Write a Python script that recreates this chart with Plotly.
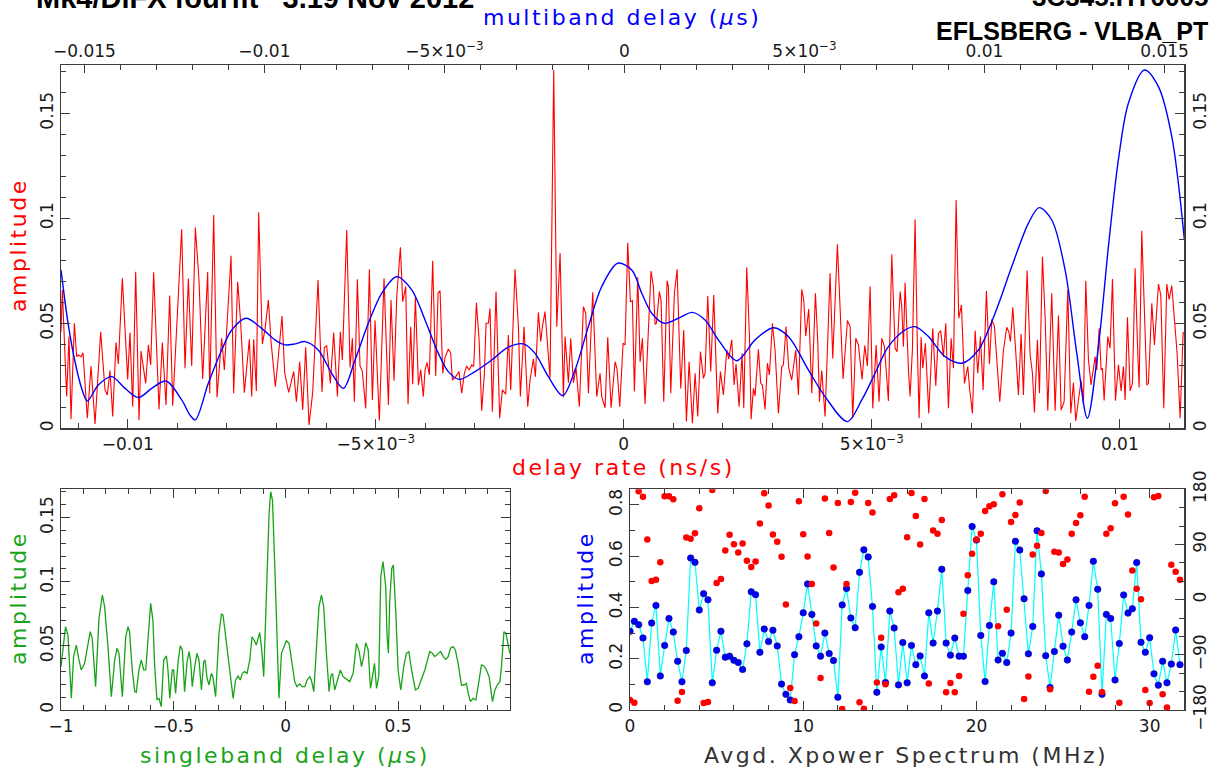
import plotly.graph_objects as go

# ---------------- data ----------------
# main panel, red: amplitude vs delay rate (stored in ps/s)
rate_ps = [
    -11.345, -11.318, -11.231, -11.184, -11.143, -11.076, -11.029, -10.995, -10.942, -10.901,
    -10.814, -10.740, -10.659, -10.545, -10.458, -10.411, -10.357, -10.303, -10.236, -10.189,
    -10.108, -10.001, -9.954, -9.900, -9.839, -9.772, -9.732, -9.638, -9.584, -9.537,
    -9.477, -9.369, -9.302, -9.228, -9.154, -9.093, -8.912, -8.845, -8.778, -8.710,
    -8.636, -8.563, -8.489, -8.448, -8.388, -8.347, -8.267, -8.200, -8.106, -8.052,
    -7.917, -7.864, -7.783, -7.722, -7.649, -7.548, -7.501, -7.460, -7.407, -7.360,
    -7.286, -7.232, -7.165, -7.111, -7.024, -6.977, -6.889, -6.835, -6.755, -6.654,
    -6.600, -6.533, -6.472, -6.412, -6.345, -6.271, -6.163, -6.083, -6.036, -5.989,
    -5.915, -5.848, -5.773, -5.713, -5.673,
    -5.585, -5.518, -5.471, -5.431, -5.370, -5.317, -5.270, -5.202, -5.128, -5.068,
    -5.014, -4.927, -4.833, -4.745, -4.692, -4.631, -4.577, -4.503, -4.456, -4.396,
    -4.349, -4.295, -4.255, -4.201, -4.140, -4.093, -4.040, -4.006, -3.966, -3.919,
    -3.852, -3.791, -3.744, -3.704, -3.650, -3.603, -3.536, -3.489, -3.455, -3.388,
    -3.321, -3.267, -3.213, -3.166, -3.119, -3.065, -3.025, -2.971, -2.917, -2.864,
    -2.810, -2.776, -2.729, -2.696, -2.649, -2.575, -2.501, -2.447, -2.380, -2.326,
    -2.279, -2.192, -2.124, -2.084, -2.010, -1.936, -1.889, -1.822, -1.782, -1.721,
    -1.674, -1.640, -1.587, -1.533, -1.486, -1.412, -1.351, -1.284, -1.217, -1.183,
    -1.116, -1.069, -1.015, -0.962, -0.895, -0.814, -0.767, -0.713, -0.626, -0.545,
    -0.478, -0.444, -0.377, -0.323, -0.256, -0.175, -0.135, -0.081, -0.014, 0.026,
    0.080, 0.134, 0.174, 0.214, 0.282, 0.329, 0.376, 0.429, 0.550, 0.597,
    0.631, 0.658, 0.718, 0.752, 0.806, 0.873, 0.900, 0.947, 1.021, 1.075,
    1.149, 1.209, 1.263, 1.317, 1.384, 1.438, 1.491, 1.545, 1.606, 1.639,
    1.693, 1.753, 1.814, 1.894, 1.948, 2.009, 2.076, 2.116, 2.177, 2.224,
    2.264, 2.325, 2.385, 2.419, 2.479, 2.533, 2.567, 2.614, 2.647, 2.714,
    2.761, 2.795, 2.849, 2.896, 2.936, 2.997, 3.050, 3.118, 3.185, 3.218,
    3.272, 3.326, 3.386, 3.467, 3.521, 3.588, 3.628, 3.669, 3.729, 3.790,
    3.864, 3.911, 3.944, 3.991, 4.058, 4.159, 4.213, 4.307, 4.368, 4.421,
    4.509, 4.563, 4.616, 4.677, 4.730, 4.804, 4.858, 4.912, 4.966, 5.020,
    5.087, 5.147, 5.201, 5.255, 5.335, 5.403, 5.470, 5.510, 5.571, 5.604,
    5.638, 5.671,
    5.739, 5.772, 5.819, 5.873, 5.920, 5.954, 5.994, 6.028, 6.081, 6.148,
    6.229, 6.290, 6.343, 6.390, 6.444, 6.491, 6.545, 6.599, 6.646, 6.700,
    6.753, 6.807, 6.868, 6.935, 6.968, 7.029, 7.083, 7.136, 7.190, 7.244,
    7.311, 7.372, 7.419, 7.473, 7.580, 7.654, 7.721, 7.762, 7.795, 7.842,
    7.896, 7.956, 8.010, 8.057, 8.131, 8.192, 8.239, 8.279, 8.339, 8.380,
    8.440, 8.494, 8.548, 8.628, 8.696, 8.763, 8.817, 8.877, 8.951, 9.012,
    9.065, 9.112, 9.166, 9.220, 9.267, 9.314, 9.368, 9.421, 9.502, 9.536,
    9.583, 9.623, 9.650, 9.684, 9.757, 9.804, 9.852, 9.912, 9.973, 10.026,
    10.073, 10.107, 10.154, 10.208, 10.255, 10.308, 10.355, 10.389, 10.443, 10.497,
    10.544, 10.577, 10.645, 10.698, 10.779, 10.826, 10.886, 10.947, 10.994, 11.048,
    11.115, 11.155, 11.216, 11.276, 11.303,
]
rate_amp = [
    0.0460, 0.0659, 0.0151, 0.0437, 0.0043, 0.0500, 0.0341, 0.0349, 0.0341, 0.0360,
    0.0048, 0.0297, 0.0021, 0.0460, 0.0183, 0.0159, 0.0275, 0.0056, 0.0408, 0.0306,
    0.0714, 0.0233, 0.0456, 0.0103, 0.0746, 0.0040, 0.0368, 0.0214, 0.0397, 0.0302,
    0.0743, 0.0090, 0.0408, 0.0111, 0.0632, 0.0108, 0.0948, 0.0286, 0.0713, 0.0297,
    0.0956, 0.0706, 0.0235, 0.0468, 0.0744, 0.0167, 0.1016, 0.0148, 0.0429, 0.0278,
    0.0822, 0.0167, 0.0698, 0.0500, 0.0170, 0.0424, 0.0151, 0.0424, 0.0178, 0.1029,
    0.0402, 0.0471, 0.0611, 0.0413, 0.0198, 0.0306, 0.0535, 0.0262, 0.0171, 0.0270,
    0.0127, 0.0317, 0.0087, 0.0386, 0.0016, 0.0171, 0.0706, 0.0173, 0.0386, 0.0392,
    0.0214, 0.0456, 0.0151, 0.0460, 0.0325,
    0.0944, 0.0290, 0.0429, 0.0127, 0.0710, 0.0297, 0.0270, 0.0095, 0.0757, 0.0135,
    0.0513, 0.0037, 0.0714, 0.0111, 0.0611, 0.0227, 0.0627, 0.0862, 0.0603, 0.0675,
    0.0114, 0.0484, 0.0210, 0.0624, 0.0206, 0.0278, 0.0151, 0.0278, 0.0313, 0.0254,
    0.0798, 0.0249, 0.0643, 0.0656, 0.0262, 0.0337, 0.0378, 0.0357, 0.0230, 0.0246,
    0.0270, 0.0167, 0.0262, 0.0297, 0.0278, 0.0302, 0.0294, 0.0598, 0.0424, 0.0084,
    0.0259, 0.0500, 0.0500, 0.0571, 0.0079, 0.0651, 0.0048, 0.0183, 0.0162, 0.0444,
    0.0183, 0.0757, 0.0484, 0.0151, 0.0484, 0.0103, 0.0230, 0.0330, 0.0246, 0.0552,
    0.0413, 0.0484, 0.0556, 0.0389, 0.0238, 0.1706, 0.0484, 0.0833, 0.0148, 0.0437,
    0.0217, 0.0429, 0.0217, 0.0286, 0.0103, 0.0579, 0.0548, 0.0167, 0.0648, 0.0151,
    0.0262, 0.0151, 0.0098, 0.0433, 0.0098, 0.0317, 0.0281, 0.0103, 0.0405, 0.0397,
    0.0884, 0.0603, 0.0608, 0.0175, 0.0719, 0.0317, 0.0429, 0.0116, 0.0749, 0.0675,
    0.0495, 0.0500, 0.0651, 0.0608, 0.0127, 0.0703, 0.0675, 0.0167, 0.0643, 0.0757,
    0.0190, 0.0468, 0.0032, 0.0317, 0.0024, 0.0262, 0.0056, 0.0365, 0.0238, 0.0262,
    0.0630, 0.0270, 0.0635, 0.0071, 0.0270, 0.0159, 0.0373, 0.0329, 0.0421, 0.0206,
    0.0306, 0.0103, 0.0357, 0.0095, 0.0767, 0.0444, 0.0043, 0.0190, 0.0154, 0.0376,
    0.0214, 0.0206, 0.0090, 0.0310, 0.0254, 0.0500, 0.0373, 0.0071, 0.0294, 0.0302,
    0.0484, 0.0286, 0.0230, 0.0373, 0.0159, 0.0662, 0.0611, 0.0440, 0.0568, 0.0167,
    0.0643, 0.0413, 0.0127, 0.0275, 0.0056, 0.0738, 0.0333, 0.0876, 0.0529, 0.0235,
    0.0513, 0.0484, 0.0048, 0.0429, 0.0397, 0.0233, 0.0394, 0.0297, 0.0675, 0.0095,
    0.0397, 0.0127, 0.0429, 0.0389, 0.0130, 0.0829, 0.0381, 0.0365, 0.0651, 0.0579,
    0.0389, 0.0694,
    0.0278, 0.0151, 0.0376, 0.0995, 0.0376, 0.0048, 0.0433, 0.0286, 0.0405, 0.0071,
    0.0476, 0.0202, 0.0452, 0.0465, 0.0341, 0.0500, 0.0095, 0.0429, 0.0286, 0.1087,
    0.0524, 0.0587, 0.0214, 0.0294, 0.0198, 0.0071, 0.0465, 0.0262, 0.0437, 0.0183,
    0.0654, 0.0306, 0.0519, 0.0484, 0.0127, 0.0373, 0.0481, 0.0460, 0.0413, 0.0576,
    0.0386, 0.0159, 0.0449, 0.0159, 0.0751, 0.0349, 0.0262, 0.0075, 0.0421, 0.0167,
    0.0817, 0.0532, 0.0084, 0.0643, 0.0084, 0.0537, 0.0087, 0.0127, 0.0659, 0.0071,
    0.0217, 0.0035, 0.0135, 0.0227, 0.0119, 0.0703, 0.0325, 0.0206, 0.0341, 0.0278,
    0.0476, 0.0278, 0.0286, 0.0132, 0.0437, 0.0381, 0.0711, 0.0132, 0.0302, 0.0178,
    0.0294, 0.0135, 0.0529, 0.0178, 0.0214, 0.0762, 0.0405, 0.0194, 0.0941, 0.0484,
    0.0206, 0.0214, 0.0595, 0.0397, 0.0687, 0.0635, 0.0095, 0.0687, 0.0614, 0.0679,
    0.0484, 0.0357, 0.0048, 0.0456, 0.0452,
]

# main panel, blue: amplitude vs multiband delay (stored in ns)
mbd_ns = [
    -15.650, -15.447, -15.261, -15.075, -14.919, -14.614, -14.242, -13.872, -13.503, -13.131,
    -12.733, -12.297, -12.067, -11.919, -11.558, -11.186, -10.908, -10.511, -10.075, -9.706,
    -9.428, -9.150, -8.872, -8.503, -8.131, -7.808, -7.483, -7.114, -6.742, -6.325,
    -5.908, -5.539, -5.169, -4.892, -4.594, -4.150, -3.686, -3.225, -2.808, -2.483,
    -2.114, -1.714, -1.372, -1.003, -0.631, -0.186, 0.203, 0.481, 0.758, 1.108,
    1.497, 1.886, 2.239, 2.608, 3.119, 3.628, 4.136, 4.553, 5.108, 5.572,
    6.192, 6.592, 6.961, 7.331, 7.794, 8.072, 8.442, 8.906, 9.369, 9.831,
    10.294, 10.758, 11.219, 11.517, 11.869, 12.239, 12.564, 12.858, 13.164, 13.442,
    13.719, 13.997, 14.442, 14.831, 15.203, 15.553,
]
mbd_amp = [
    0.0754, 0.0492, 0.0317, 0.0190, 0.0130, 0.0206, 0.0246, 0.0190, 0.0146, 0.0190,
    0.0225, 0.0135, 0.0063, 0.0040, 0.0214, 0.0373, 0.0468, 0.0524, 0.0476, 0.0421,
    0.0397, 0.0402, 0.0413, 0.0373, 0.0262, 0.0190, 0.0325, 0.0500, 0.0643, 0.0722,
    0.0659, 0.0516, 0.0357, 0.0270, 0.0233, 0.0270, 0.0325, 0.0386, 0.0402, 0.0357,
    0.0246, 0.0156, 0.0278, 0.0484, 0.0675, 0.0786, 0.0754, 0.0643, 0.0548, 0.0500,
    0.0524, 0.0552, 0.0516, 0.0421, 0.0322, 0.0421, 0.0479, 0.0437, 0.0278, 0.0151,
    0.0032, 0.0135, 0.0262, 0.0389, 0.0468, 0.0484, 0.0437, 0.0341, 0.0310, 0.0373,
    0.0548, 0.0770, 0.0976, 0.1051, 0.0992, 0.0754, 0.0357, 0.0048, 0.0389, 0.0865,
    0.1278, 0.1548, 0.1706, 0.1627, 0.1389, 0.0897,
]

# lower left, green: amplitude vs singleband delay (us)
sbd_us = [
    -1.000, -0.991, -0.980, -0.969, -0.954, -0.944, -0.932, -0.920, -0.910, -0.895,
    -0.880, -0.870, -0.861, -0.846, -0.831, -0.816, -0.806, -0.791, -0.776, -0.761,
    -0.751, -0.742, -0.727, -0.712, -0.702, -0.695, -0.683, -0.672, -0.665, -0.653,
    -0.643, -0.632, -0.623, -0.613, -0.601, -0.591, -0.583, -0.573, -0.564, -0.554,
    -0.543, -0.531, -0.524, -0.516, -0.505, -0.499, -0.490, -0.479, -0.469, -0.460,
    -0.450, -0.439, -0.430, -0.423, -0.416, -0.405, -0.395, -0.386, -0.375, -0.365,
    -0.359, -0.350, -0.341, -0.331, -0.324, -0.312, -0.297, -0.286, -0.279, -0.267,
    -0.252, -0.234, -0.223, -0.212, -0.202, -0.193, -0.183, -0.172, -0.160, -0.150,
    -0.141, -0.131, -0.116, -0.108, -0.098, -0.086, -0.074, -0.067, -0.059, -0.049,
    -0.039, -0.030, -0.019, -0.009, 0.003, 0.015, 0.027, 0.040, 0.050, 0.062,
    0.074, 0.085, 0.095, 0.107, 0.114, 0.125, 0.137, 0.148, 0.159, 0.169,
    0.181, 0.193, 0.200, 0.208, 0.218, 0.233, 0.243, 0.255, 0.270, 0.285,
    0.300, 0.315, 0.327, 0.337, 0.347, 0.356, 0.367, 0.377, 0.386, 0.395,
    0.404, 0.414, 0.423, 0.433, 0.445, 0.451, 0.457, 0.463, 0.472, 0.479,
    0.490, 0.500, 0.512, 0.525, 0.537, 0.548, 0.560, 0.577, 0.589, 0.604,
    0.619, 0.641, 0.653, 0.663, 0.678, 0.689, 0.701, 0.712, 0.723, 0.733,
    0.745, 0.755, 0.767, 0.782, 0.794, 0.804, 0.812, 0.822, 0.834, 0.846,
    0.856, 0.871, 0.882, 0.893, 0.905, 0.920, 0.931, 0.941, 0.953, 0.960,
    0.971, 0.980, 0.990, 0.997,
]
sbd_amp = [
    0.0338, 0.0494, 0.0649, 0.0584, 0.0091, 0.0416, 0.0506, 0.0390, 0.0312, 0.0364,
    0.0519, 0.0610, 0.0558, 0.0182, 0.0714, 0.0896, 0.0805, 0.0494, 0.0104, 0.0390,
    0.0481, 0.0442, 0.0104, 0.0571, 0.0649, 0.0610, 0.0312, 0.0143, 0.0138, 0.0312,
    0.0390, 0.0312, 0.0312, 0.0571, 0.0831, 0.0701, 0.0338, 0.0078, 0.0091, 0.0026,
    0.0390, 0.0421, 0.0312, 0.0091, 0.0312, 0.0312, 0.0130, 0.0377, 0.0501, 0.0468,
    0.0143, 0.0377, 0.0455, 0.0377, 0.0182, 0.0338, 0.0442, 0.0390, 0.0156, 0.0377,
    0.0390, 0.0247, 0.0195, 0.0286, 0.0260, 0.0104, 0.0597, 0.0748, 0.0740, 0.0571,
    0.0338, 0.0091, 0.0234, 0.0265, 0.0234, 0.0286, 0.0299, 0.0286, 0.0390, 0.0571,
    0.0545, 0.0506, 0.0603, 0.0494, 0.0260, 0.0883, 0.1532, 0.1701, 0.1636, 0.1143,
    0.0494, 0.0091, 0.0442, 0.0494, 0.0540, 0.0519, 0.0390, 0.0221, 0.0182, 0.0203,
    0.0182, 0.0182, 0.0234, 0.0260, 0.0234, 0.0143, 0.0494, 0.0805, 0.0896, 0.0805,
    0.0442, 0.0143, 0.0260, 0.0286, 0.0156, 0.0260, 0.0312, 0.0260, 0.0239, 0.0221,
    0.0286, 0.0519, 0.0455, 0.0338, 0.0416, 0.0525, 0.0468, 0.0169, 0.0260, 0.0364,
    0.0169, 0.0260, 0.1039, 0.1156, 0.0961, 0.0571, 0.0442, 0.0857, 0.1104, 0.1130,
    0.0753, 0.0312, 0.0156, 0.0338, 0.0442, 0.0455, 0.0312, 0.0156, 0.0169, 0.0234,
    0.0312, 0.0455, 0.0442, 0.0416, 0.0442, 0.0455, 0.0416, 0.0395, 0.0416, 0.0481,
    0.0494, 0.0468, 0.0364, 0.0195, 0.0195, 0.0208, 0.0130, 0.0065, 0.0091, 0.0078,
    0.0182, 0.0351, 0.0343, 0.0312, 0.0260, 0.0065, 0.0156, 0.0195, 0.0221, 0.0338,
    0.0610, 0.0597, 0.0506, 0.0442,
]

# lower right: averaged cross-power spectrum
freq_mhz = [
    0.00, 0.25, 0.50, 0.75, 1.00, 1.25, 1.50, 1.75, 2.00, 2.25,
    2.50, 2.75, 3.00, 3.25, 3.50, 3.75, 4.00, 4.25, 4.50, 4.75,
    5.00, 5.25, 5.50, 5.75, 6.00, 6.25, 6.50, 6.75, 7.00, 7.25,
    7.50, 7.75, 8.00, 8.25, 8.50, 8.75, 9.00, 9.25, 9.50, 9.75,
    10.00, 10.25, 10.50, 10.75, 11.00, 11.25, 11.50, 11.75, 12.00, 12.25,
    12.50, 12.75, 13.00, 13.25, 13.50, 13.75, 14.00, 14.25, 14.50, 14.75,
    15.00, 15.25, 15.50, 15.75, 16.00, 16.25, 16.50, 16.75, 17.00, 17.25,
    17.50, 17.75, 18.00, 18.25, 18.50, 18.75, 19.00, 19.25, 19.50, 19.75,
    20.00, 20.25, 20.50, 20.75, 21.00, 21.25, 21.50, 21.75, 22.00, 22.25,
    22.50, 22.75, 23.00, 23.25, 23.50, 23.75, 24.00, 24.25, 24.50, 24.75,
    25.00, 25.25, 25.50, 25.75, 26.00, 26.25, 26.50, 26.75, 27.00, 27.25,
    27.50, 27.75, 28.00, 28.25, 28.50, 28.75, 29.00, 29.25, 29.50, 29.75,
    30.00, 30.25, 30.50, 30.75, 31.00, 31.25, 31.50, 31.75,
]
spec_amp = [
    0.307, 0.346, 0.333, 0.281, 0.110, 0.339, 0.408, 0.133, 0.252, 0.357,
    0.304, 0.190, 0.110, 0.232, 0.593, 0.576, 0.390, 0.454, 0.430, 0.106,
    0.233, 0.307, 0.206, 0.210, 0.194, 0.185, 0.158, 0.258, 0.461, 0.450,
    0.225, 0.316, 0.267, 0.311, 0.250, 0.101, 0.061, 0.039, 0.216, 0.286,
    0.379, 0.492, 0.373, 0.250, 0.210, 0.300, 0.220, 0.193, 0.050, 0.410,
    0.474, 0.359, 0.321, 0.537, 0.625, 0.597, 0.404, 0.069, 0.246, 0.107,
    0.386, 0.320, 0.098, 0.263, 0.106, 0.252, 0.177, 0.211, 0.133, 0.379,
    0.261, 0.386, 0.549, 0.261, 0.214, 0.281, 0.210, 0.210, 0.466, 0.716,
    0.663, 0.291, 0.111, 0.330, 0.500, 0.195, 0.221, 0.185, 0.300, 0.658,
    0.624, 0.434, 0.219, 0.326, 0.699, 0.531, 0.212, 0.088, 0.228, 0.370,
    0.249, 0.195, 0.304, 0.430, 0.340, 0.286, 0.408, 0.580, 0.471, 0.061,
    0.373, 0.357, 0.117, 0.259, 0.449, 0.378, 0.395, 0.575, 0.264, 0.225,
    0.282, 0.141, 0.097, 0.190, 0.106, 0.179, 0.312, 0.177,
]
spec_phase_deg = [
    -163.7, -168.0, 176.7, 168.0, 98.1, 30.4, 32.5, 61.2, 168.6, 168.6,
    163.7, -164.8, -150.7, 101.4, 99.2, 108.4, 149.1, -168.6, -166.9, 178.9,
    27.1, 33.6, 80.2, 105.7, 90.5, 77.0, 91.6, 63.4, 53.1, 62.3,
    124.1, 173.4, 153.4, 106.2, 94.3, 69.9, -8.1, -144.2, -165.3, 160.4,
    106.8, 70.5, 25.5, -39.0, -127.9, 164.8, 108.9, 52.6, 157.7, -178.3,
    25.5, 159.3, 174.5, -167.5, -177.8, 157.7, 142.0, -135.0, -62.3, -138.2,
    164.2, 170.2, 11.9, 17.9, 101.9, 174.0, 136.6, 90.0, 164.2, -136.6,
    112.7, 107.3, 130.1, -151.2, -136.0, -151.2, -124.7, -22.8, 39.6, 74.8,
    98.1, 107.3, 144.7, 152.3, 155.6, -43.4, 171.8, -16.3, 126.8, 138.2,
    158.3, -162.1, -125.2, 73.7, 87.8, 108.9, 177.2, -146.3, 78.0, 77.0,
    58.0, 65.6, 107.3, 125.2, 137.7, 168.0, -150.1, -125.7, -107.9, -150.7,
    107.3, 116.5, 157.2, -168.0, 168.0, 138.8, 47.7, 17.9, 0.5, -147.4,
    -168.6, 166.9, 169.1, -154.5, -176.1, 56.9, 45.5, 32.5,
]

# tick labels
rate_tickvals = [-0.01, -0.005, 0, 0.005, 0.01]
rate_ticktext = ["\u22120.01", "\u22125\u00d710<sup>\u22123</sup>", "0", "5\u00d710<sup>\u22123</sup>", "0.01"]
mbd_tickvals = [-0.015, -0.01, -0.005, 0, 0.005, 0.01, 0.015]
mbd_ticktext = ["\u22120.015", "\u22120.01", "\u22125\u00d710<sup>\u22123</sup>", "0",
                "5\u00d710<sup>\u22123</sup>", "0.01", "0.015"]
amp_tickvals = [0, 0.05, 0.1, 0.15]
amp_ticktext = ["0", "0.05", "0.1", "0.15"]
sbd_tickvals = [-1, -0.5, 0, 0.5]
sbd_ticktext = ["\u22121", "\u22120.5", "0", "0.5"]
spec_amp_tickvals = [0, 0.2, 0.4, 0.6, 0.8]
spec_amp_ticktext = ["0", "0.2", "0.4", "0.6", "0.8"]
phase_tickvals = [-180, -90, 0, 90, 180]
phase_ticktext = ["\u2212180", "\u221290", "0", "90", "180"]
freq_tickvals = [0, 10, 20, 30]

assert len(rate_ps) == len(rate_amp)
assert len(mbd_ns) == len(mbd_amp)
assert len(sbd_us) == len(sbd_amp)
assert len(freq_mhz) == len(spec_amp) == len(spec_phase_deg)

# ---------------- styling / layout ----------------
W, H = 1212, 773
def fx(p):
    return p / W
def fy(p):
    return 1 - p / H

FONT = "DejaVu Sans"
AXC = "#3c3c3c"
TICKFONT = dict(family=FONT, size=17, color="#1a1a1a")
RED = "#ff0000"
BLUE = "#0000ff"
GREEN = "#18a418"

def axis(**kw):
    d = dict(showline=True, linecolor=AXC, linewidth=1.2, ticks="inside", ticklen=9,
             tickwidth=1, tickcolor=AXC, showgrid=False, zeroline=False, automargin=False,
             tickfont=TICKFONT, fixedrange=True, tickmode="array")
    d.update(kw)
    return d

def minor(dt):
    return dict(ticks="inside", ticklen=5, tickwidth=1, tickcolor=AXC, dtick=dt, tick0=0, showgrid=False)

fig = go.Figure()

fig.add_trace(go.Scatter(x=[r / 1000 for r in rate_ps], y=rate_amp, xaxis="x", yaxis="y",
                         mode="lines", line=dict(color=RED, width=1.1), hoverinfo="skip"))
fig.add_trace(go.Scatter(x=[m / 1000 for m in mbd_ns], y=mbd_amp, xaxis="x2", yaxis="y",
                         mode="lines", line=dict(color=BLUE, width=1.4, shape="spline", smoothing=0.9),
                         hoverinfo="skip"))
fig.add_trace(go.Scatter(x=[0], y=[-1], xaxis="x", yaxis="y2", mode="markers",
                         marker=dict(size=1, opacity=0), hoverinfo="skip"))

fig.add_trace(go.Scatter(x=sbd_us, y=sbd_amp, xaxis="x3", yaxis="y3", mode="lines",
                         line=dict(color=GREEN, width=1.3), hoverinfo="skip"))

fig.add_trace(go.Scatter(x=freq_mhz, y=spec_amp, xaxis="x4", yaxis="y4", mode="lines+markers",
                         line=dict(color="#00ffff", width=1.2),
                         marker=dict(color=BLUE, size=6.5, line=dict(color="#000080", width=0.6)),
                         hoverinfo="skip"))
fig.add_trace(go.Scatter(x=freq_mhz, y=spec_phase_deg, xaxis="x4", yaxis="y5", mode="markers",
                         marker=dict(color=RED, size=6.5, line=dict(width=0)), hoverinfo="skip"))

main_x = [fx(61), fx(1184.3)]
main_y = [fy(428.3), fy(65)]
low_y = [fy(710), fy(489.3)]

fig.update_layout(
    template="none", autosize=False,
    width=W, height=H, margin=dict(l=0, r=0, t=0, b=0, pad=0),
    paper_bgcolor="white", plot_bgcolor="white", showlegend=False,
    xaxis=axis(domain=main_x, anchor="y", range=[-0.011345, 0.0113],
               tickvals=rate_tickvals, ticktext=rate_ticktext, minor=minor(0.001)),
    xaxis2=axis(overlaying="x", side="top", anchor="y", range=[-0.01565, 0.01555],
                tickvals=mbd_tickvals, ticktext=mbd_ticktext, minor=minor(0.001), ticklen=8),
    yaxis=axis(domain=main_y, anchor="x", range=[0, 0.173], tickvals=amp_tickvals,
               ticktext=amp_ticktext, tickangle=-90, minor=minor(0.01)),
    yaxis2=axis(overlaying="y", side="right", anchor="x", range=[0, 0.173], tickvals=amp_tickvals,
                ticktext=amp_ticktext, tickangle=-90, minor=minor(0.01)),
    xaxis3=axis(domain=[fx(61), fx(510)], anchor="y3", range=[-1, 0.998], mirror="ticks",
                tickvals=sbd_tickvals, ticktext=sbd_ticktext, minor=minor(0.1)),
    yaxis3=axis(domain=low_y, anchor="x3", range=[0, 0.172], mirror="ticks",
                tickvals=amp_tickvals, ticktext=amp_ticktext, tickangle=-90, minor=minor(0.01)),
    xaxis4=axis(domain=[fx(630), fx(1184.3)], anchor="y4", range=[0, 32], mirror="ticks",
                tickvals=freq_tickvals, ticktext=[str(v) for v in freq_tickvals], minor=minor(2)),
    yaxis4=axis(domain=low_y, anchor="x4", range=[0, 0.861], tickvals=spec_amp_tickvals,
                ticktext=spec_amp_ticktext, tickangle=-90, minor=minor(0.1)),
    yaxis5=axis(overlaying="y4", side="right", anchor="x4", range=[-180, 180],
                tickvals=phase_tickvals, ticktext=phase_ticktext, tickangle=-90, minor=minor(30)),
)

def spaced(text, sp=2.5):
    return '<span style="letter-spacing:%spx">%s</span>' % (sp, text)

ann = []
def add_ann(text, x, y, color, size=22, angle=0, xanchor="center", yanchor="middle", family=FONT, sp=2.5):
    ann.append(dict(text=spaced(text, sp) if sp else text, x=fx(x), y=fy(y), xref="paper", yref="paper",
                    showarrow=False, textangle=angle, xanchor=xanchor, yanchor=yanchor,
                    font=dict(family=family, size=size, color=color)))

add_ann("multiband delay (<i>\u03bc</i>s)", 622, 18, BLUE)
add_ann("delay rate (ns/s)", 623, 467, RED)
add_ann("amplitude", 18, 245, RED, angle=-90)
add_ann("amplitude", 18, 598, GREEN, angle=-90)
add_ann("singleband delay (<i>\u03bc</i>s)", 285, 755, GREEN)
add_ann("amplitude", 585, 598, BLUE, angle=-90)
add_ann("Avgd. Xpower Spectrum (MHz)", 906, 755, "#333333")

# header texts (cut by the top edge, as in the reference)
add_ann("<b>Mk4/DiFX fourfit   3.19 Nov 2012</b>", 476, 16, "#000000", size=29,
        xanchor="right", yanchor="bottom", family="Liberation Sans", sp=0)
add_ann("<b>3C345.HT0005</b>", 1210, 14, "#000000", size=26,
        xanchor="right", yanchor="bottom", family="Liberation Sans", sp=0)
add_ann("<b>EFLSBERG - VLBA_PT</b>", 1210, 31, "#000000", size=25,
        xanchor="right", yanchor="middle", family="Liberation Sans", sp=0)

fig.update_layout(annotations=ann)
fig.write_html("out.html", config={"displayModeBar": False, "staticPlot": True},
               post_script="document.body.style.margin='0px';document.body.style.overflow='hidden';")
